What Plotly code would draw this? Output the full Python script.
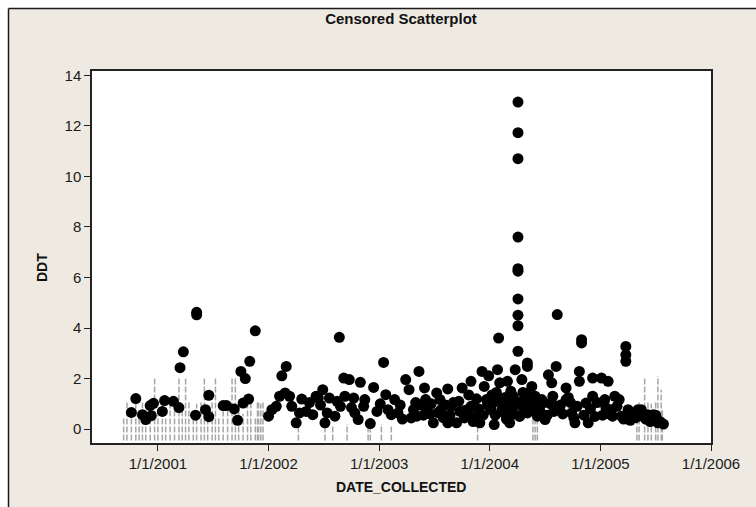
import plotly.graph_objects as go

# ---- data (decimal year of DATE_COLLECTED, DDT value) ----
detected_year = [
    2000.76, 2000.80, 2000.86, 2000.89, 2000.93, 2000.94, 2000.96, 2001.04, 2001.06, 2001.14,
    2001.19, 2001.20, 2001.23, 2001.35, 2001.35, 2001.34, 2001.43, 2001.46, 2001.46, 2001.59,
    2001.62, 2001.69, 2001.72, 2001.75, 2001.79, 2001.83, 2001.77, 2001.82, 2001.88,
    2002.00, 2002.03, 2002.07, 2002.12, 2002.16, 2002.10, 2002.15, 2002.19, 2002.25, 2002.28,
    2002.30, 2002.34, 2002.40, 2002.43, 2002.45, 2002.49, 2002.51, 2002.53, 2002.55, 2002.60,
    2002.64, 2002.65, 2002.68, 2002.69, 2002.73, 2002.77, 2002.78, 2002.81, 2002.83, 2002.86,
    2002.87, 2002.92, 2002.95, 2003.04, 2003.06, 2003.08, 2003.11, 2003.14, 2003.17, 2003.24,
    2003.27, 2003.29, 2003.31, 2003.34, 2003.36, 2003.41, 2003.42, 2003.43, 2003.49, 2003.52,
    2003.55, 2003.56, 2003.62, 2003.62, 2003.65, 2003.70, 2003.73, 2003.75, 2003.77, 2003.83,
    2003.83, 2003.86, 2003.91, 2003.93, 2003.95, 2003.97, 2003.99, 2004.01, 2004.04, 2004.07,
    2004.08, 2004.09, 2004.10, 2004.13, 2004.16, 2004.18, 2004.21, 2004.23,
    2004.255, 2004.255, 2004.255, 2004.255, 2004.255, 2004.255, 2004.255, 2004.255, 2004.255, 2004.255,
    2004.29, 2004.32, 2004.34, 2004.34, 2004.34, 2004.38, 2004.39, 2004.43, 2004.47, 2004.50,
    2004.53, 2004.56, 2004.57, 2004.60, 2004.61, 2004.60, 2004.83, 2004.83, 2004.81, 2004.81,
    2004.63, 2004.69, 2004.69, 2004.74, 2004.77, 2004.87, 2004.89, 2004.93, 2004.93, 2005.01,
    2005.04, 2005.07, 2005.10, 2005.13, 2005.11, 2005.17, 2005.19, 2005.23, 2005.23, 2005.23,
    2005.25, 2005.29, 2005.34, 2005.38, 2005.43, 2005.47, 2005.52, 2005.37, 2005.48,
    2003.38, 2003.46, 2003.58, 2003.67, 2003.80, 2003.88, 2003.90, 2004.02, 2004.05, 2004.12,
    2004.15, 2004.19, 2004.20, 2004.24, 2004.27, 2004.30, 2004.36, 2004.41, 2004.45, 2004.52,
    2004.55, 2004.66, 2004.71, 2004.79, 2004.85, 2004.91, 2004.97, 2005.02, 2005.05, 2005.15,
    2005.21, 2005.27, 2005.32, 2005.41, 2005.45, 2005.50, 2005.54, 2005.57,
    2002.21, 2002.37, 2002.47, 2002.62, 2002.75, 2002.98, 2003.01, 2003.19, 2003.21, 2003.33,
    2003.40, 2003.47, 2003.53, 2003.60, 2003.64, 2003.72, 2003.78, 2003.81, 2003.85, 2003.94,
    2003.98, 2004.03, 2004.06, 2004.11, 2004.14, 2004.17, 2004.22, 2004.28, 2004.31, 2004.33,
    2004.37, 2004.42, 2004.46, 2004.49, 2004.58, 2004.64, 2004.73, 2004.76, 2004.95, 2005.08,
]
detected_ddt = [
    0.66, 1.21, 0.57, 0.38, 0.93, 0.53, 1.02, 0.70, 1.13, 1.10,
    0.85, 2.43, 3.06, 4.52, 4.62, 0.55, 0.77, 1.34, 0.49, 0.93,
    0.93, 0.80, 0.35, 2.28, 2.00, 2.68, 1.03, 1.19, 3.89,
    0.51, 0.77, 0.90, 2.11, 2.48, 1.30, 1.43, 1.30, 0.25, 0.64,
    1.19, 0.70, 0.57, 1.30, 1.23, 1.56, 0.25, 0.64, 1.23, 0.51,
    3.63, 0.90, 2.02, 1.30, 1.96, 1.23, 0.64, 0.38, 1.85, 0.90,
    1.17, 0.22, 1.65, 2.64, 1.36, 0.77, 0.57, 1.17, 0.64, 1.96,
    1.56, 0.44, 0.77, 0.51, 2.28, 1.63, 1.17, 0.77, 0.25, 1.43,
    1.17, 0.77, 1.59, 0.25, 0.90, 0.25, 0.70, 1.63, 0.44, 1.89,
    0.90, 0.50, 0.25, 2.28, 1.69, 1.17, 2.11, 0.77, 0.18, 2.35,
    3.60, 1.83, 1.17, 0.64, 1.89, 0.25, 1.30, 2.35,
    12.94, 11.73, 10.70, 7.60, 6.35, 6.25, 5.15, 4.51, 4.09, 3.08,
    1.96, 1.17, 2.62, 2.48, 0.64, 1.69, 0.77, 0.51, 1.17, 0.38,
    2.15, 1.83, 1.30, 2.48, 4.53, 0.90, 3.54, 3.41, 2.28, 1.89,
    0.77, 1.63, 1.17, 0.64, 0.25, 1.03, 0.25, 2.02, 1.30, 2.02,
    1.17, 1.89, 0.77, 1.30, 0.51, 1.17, 0.51, 3.27, 2.94, 2.68,
    0.77, 0.51, 0.77, 0.51, 0.57, 0.44, 0.25, 0.77, 0.57,
    0.95, 0.60, 0.45, 1.05, 0.65, 1.20, 0.80, 1.35, 0.55, 1.00,
    0.40, 1.50, 0.75, 1.10, 0.50, 1.45, 0.90, 1.30, 0.85, 0.55,
    1.00, 0.60, 1.25, 0.90, 0.55, 0.80, 1.05, 0.55, 0.85, 0.90,
    0.40, 0.35, 0.45, 0.40, 0.30, 0.55, 0.30, 0.20,
    0.90, 1.05, 0.95, 1.10, 0.85, 0.70, 1.00, 0.95, 0.40, 1.05,
    0.55, 1.00, 0.65, 0.95, 0.55, 1.10, 0.75, 1.35, 0.30, 0.55,
    0.95, 1.05, 1.45, 0.80, 1.25, 1.05, 0.60, 0.95, 0.70, 1.40,
    1.05, 0.95, 0.65, 1.05, 0.70, 0.95, 1.05, 0.45, 0.50, 0.60,
]

# censored observations: (decimal year, lower bound, upper bound)
censored_year = [
    2000.69, 2000.72, 2000.76, 2000.80, 2000.83, 2000.86, 2000.89, 2000.93, 2000.97, 2001.00,
    2001.04, 2001.07, 2001.11, 2001.15, 2001.19, 2001.22, 2001.25, 2001.28, 2001.32, 2001.35,
    2001.39, 2001.42, 2001.45, 2001.49, 2001.52, 2001.55, 2001.59, 2001.63, 2001.67, 2001.70,
    2001.73, 2001.77, 2001.81, 2001.84, 2001.88, 2001.90, 2001.91, 2001.93, 2001.95,
    2002.27, 2002.51, 2002.58, 2002.71, 2002.90, 2002.92, 2003.02, 2003.11,
    2003.89, 2004.39, 2004.41, 2004.43,
    2005.33, 2005.35, 2005.40, 2005.43, 2005.46, 2005.50, 2005.52, 2005.55, 2005.56,
]
censored_upper = [
    0.50, 1.10, 0.60, 1.00, 0.80, 1.10, 0.50, 1.10, 2.00, 0.70,
    1.10, 0.50, 1.00, 1.10, 2.00, 0.80, 2.00, 1.10, 0.50, 1.00,
    1.10, 2.00, 0.70, 1.10, 2.00, 0.50, 1.10, 0.80, 2.00, 2.00,
    1.10, 0.60, 1.10, 1.00, 0.50, 1.10, 1.10, 1.00, 1.10,
    0.10, 0.20, 0.10, 0.20, 0.30, 0.10, 0.20, 0.10,
    0.25, 1.30, 1.30, 1.30,
    0.80, 1.10, 2.05, 1.10, 1.00, 1.10, 2.10, 1.56, 0.80,
]
censored_lower = [-0.45] * len(censored_year)

year_ticks = [2001, 2002, 2003, 2004, 2005, 2006]
year_labels = ["1/1/2001", "1/1/2002", "1/1/2003", "1/1/2004", "1/1/2005", "1/1/2006"]
ddt_ticks = [0, 2, 4, 6, 8, 10, 12, 14]

# build the censored interval segments
cx, cy = [], []
for yr, lo, hi in zip(censored_year, censored_lower, censored_upper):
    cx += [yr, yr, None]
    cy += [lo, hi, None]

fig = go.Figure()
fig.add_trace(go.Scatter(
    x=cx, y=cy, mode="lines",
    line=dict(color="#a6a6a6", width=1.5, dash="6px,2px"),
    hoverinfo="skip", showlegend=False,
))
fig.add_trace(go.Scatter(
    x=detected_year, y=detected_ddt, mode="markers",
    marker=dict(color="black", size=11, line=dict(width=0)),
    hoverinfo="skip", showlegend=False,
))

W, H = 756, 507
L, R, T, B = 92, 45, 71, 64
pw, ph = W - L - R, H - T - B

def px_x(p):
    return (p - L) / pw

def px_y(p):
    return (H - B - p) / ph

BEIGE = "#EEEAE1"
FONT = "Liberation Sans, Arial, sans-serif"

edge = 8.5
shapes = [
    # white margin strips outside the beige panel
    dict(type="rect", xref="paper", yref="paper", layer="above",
         x0=px_x(-20), x1=px_x(edge), y0=px_y(H + 20), y1=px_y(-20),
         fillcolor="white", line=dict(width=0)),
    dict(type="rect", xref="paper", yref="paper", layer="above",
         x0=px_x(-20), x1=px_x(W + 20), y0=px_y(edge), y1=px_y(-20),
         fillcolor="white", line=dict(width=0)),
    # panel border (top and left)
    dict(type="line", xref="paper", yref="paper", layer="above",
         x0=px_x(edge), x1=px_x(W + 20), y0=px_y(edge), y1=px_y(edge),
         line=dict(color="#1a1a1a", width=1.5)),
    dict(type="line", xref="paper", yref="paper", layer="above",
         x0=px_x(edge), x1=px_x(edge), y0=px_y(edge), y1=px_y(H + 20),
         line=dict(color="#1a1a1a", width=1.5)),
]

fig.update_layout(
    width=W, height=H,
    margin=dict(l=L, r=R, t=T, b=B),
    paper_bgcolor=BEIGE,
    plot_bgcolor="white",
    shapes=shapes,
    showlegend=False,
    font=dict(family=FONT, color="#1a1a1a", size=14),
    title=dict(text="<b>Censored Scatterplot</b>", x=px_x(401), xref="paper",
               xanchor="center", y=1 - 19 / H, yanchor="middle",
               font=dict(family=FONT, size=15, color="#111")),
    xaxis=dict(
        range=[2000.404, 2006.0], tickvals=year_ticks, ticktext=year_labels,
        showgrid=False, zeroline=False, showline=True, linecolor="#222", linewidth=1.5,
        mirror=True, ticks="outside", ticklen=6, tickwidth=1.2, tickcolor="#222",
        tickfont=dict(family=FONT, size=15, color="#1a1a1a"),
    ),
    yaxis=dict(
        range=[-0.55, 14.17], tickvals=ddt_ticks,
        showgrid=False, zeroline=False, showline=True, linecolor="#222", linewidth=1.5,
        mirror=True, ticks="outside", ticklen=6, tickwidth=1.2, tickcolor="#222",
        tickfont=dict(family=FONT, size=15, color="#1a1a1a"),
    ),
    annotations=[
        dict(text="<b>DATE_COLLECTED</b>", xref="paper", yref="paper",
             x=px_x(401), y=px_y(487), xanchor="center", yanchor="middle",
             showarrow=False, font=dict(family=FONT, size=14, color="#111")),
        dict(text="<b>DDT</b>", xref="paper", yref="paper", textangle=-90,
             x=px_x(42), y=px_y(268), xanchor="center", yanchor="middle",
             showarrow=False, font=dict(family=FONT, size=14, color="#111")),
    ],
)

fig.write_html("out.html")
